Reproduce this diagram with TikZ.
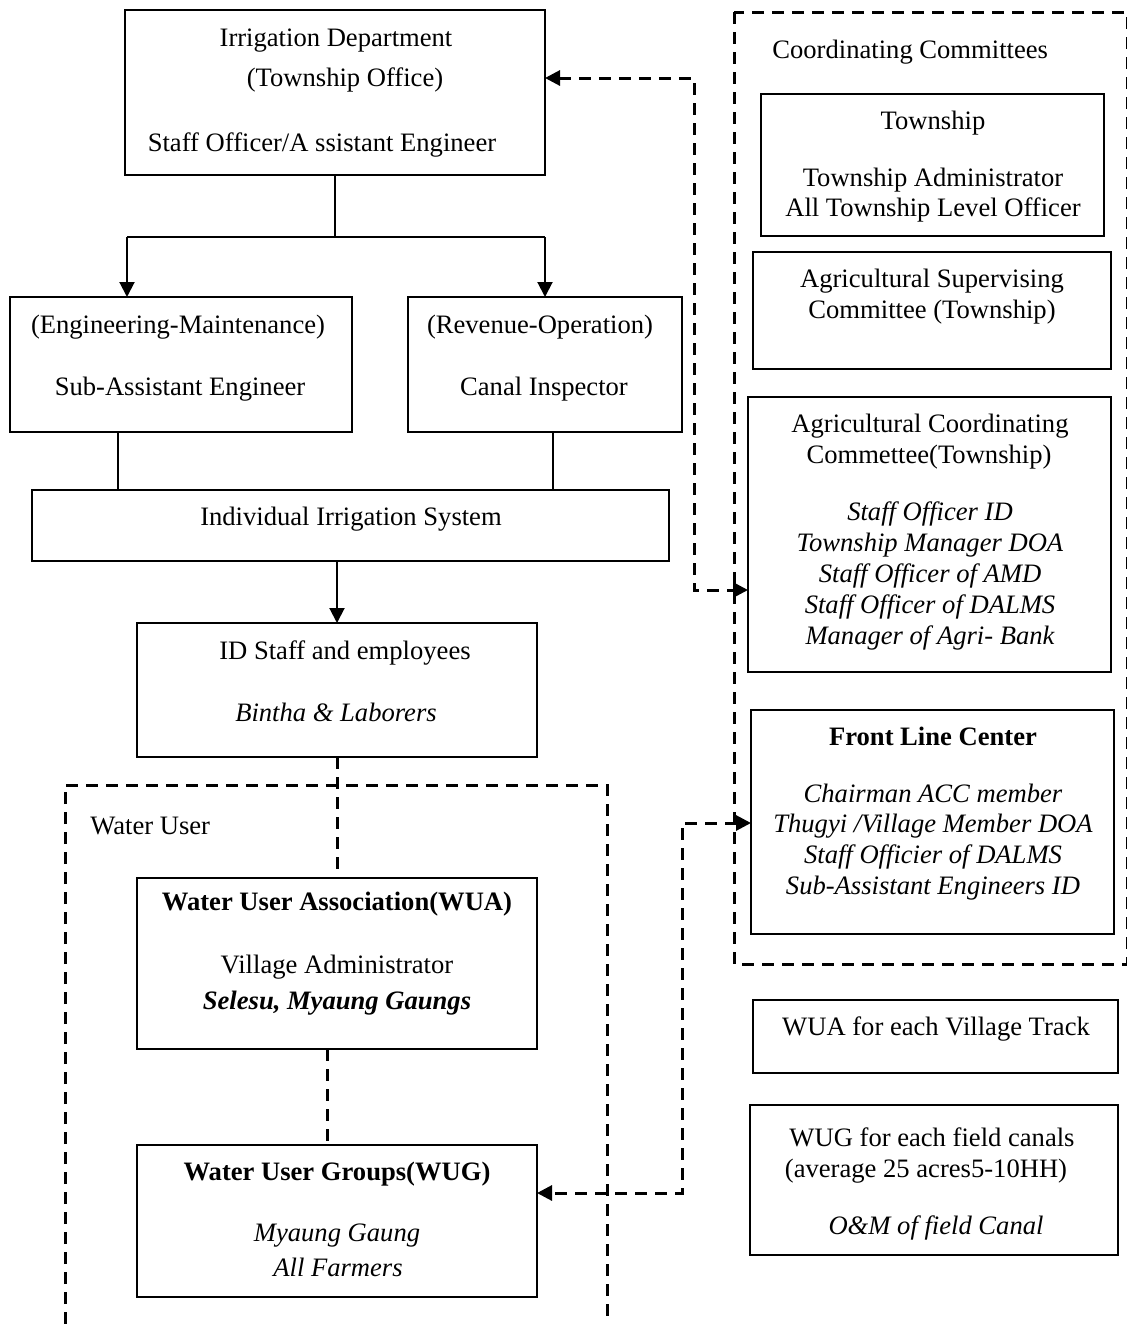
\documentclass[tikz,border=0pt]{standalone}
\usepackage{fontspec}
\setmainfont{Liberation Serif}
\usetikzlibrary{arrows.meta}

\begin{document}
\begin{tikzpicture}[x=0.5pt,y=-0.5pt,
    box/.style={draw,line width=1pt,inner sep=0pt,outer sep=0pt,anchor=north west},
    txt/.style={inner sep=0pt,anchor=mid,yshift=-2pt,font=\fontsize{13.3}{15}\selectfont},
    arr/.style={line width=1pt,-{Triangle[length=7.5pt,width=7.5pt]}},
    dash line/.style={line width=1.5pt,dash pattern=on 6pt off 4pt},
    darr/.style={dash line,{Triangle[length=7.5pt,width=7.5pt]}-{Triangle[length=7.5pt,width=7.5pt]}}]

\useasboundingbox (0,0) rectangle (1127,1324);

% left column
\node[box,minimum width=210pt,minimum height=82.5pt] (irr) at (125,10) {};
\node[txt] (irr-a) at (336,38)  {Irrigation Department};
\node[txt] (irr-b) at (345,78)  {(Township Office)};
\node[txt] (irr-c) at (322,143) {Staff Officer/A ssistant Engineer};

\node[box,minimum width=171pt,minimum height=67.5pt] (eng) at (10,297) {};
\node[txt] (eng-a) at (178,325) {(Engineering-Maintenance)};
\node[txt] (eng-b) at (180,387) {Sub-Assistant Engineer};

\node[box,minimum width=137pt,minimum height=67.5pt] (rev) at (408,297) {};
\node[txt] (rev-a) at (540,325) {(Revenue-Operation)};
\node[txt] (rev-b) at (544,387) {Canal Inspector};

\node[box,minimum width=318.5pt,minimum height=35.5pt] (iis) at (32,490) {};
\node[txt] (iis-a) at (351,517) {Individual Irrigation System};

\node[box,minimum width=200pt,minimum height=67pt] (ids) at (137,623) {};
\node[txt] (ids-a) at (345,651) {ID Staff and employees};
\node[txt] (ids-b) at (336,713) {\itshape Bintha \& Laborers};

% water user
\draw[dash line] (65,1324) |- (607,785) -- (607,1324);
\node[txt,anchor=west] (wu) at (90,822) {Water User};

\node[box,minimum width=200pt,minimum height=85.5pt] (wua) at (137,878) {};
\node[txt] (wua-a) at (337,902)  {\bfseries Water User Association(WUA)};
\node[txt] (wua-b) at (337,965)  {Village Administrator};
\node[txt] (wua-c) at (337,1001) {\bfseries\itshape Selesu, Myaung Gaungs};

\node[box,minimum width=200pt,minimum height=76pt] (wug) at (137,1145) {};
\node[txt] (wug-a) at (337,1172) {\bfseries Water User Groups(WUG)};
\node[txt] (wug-b) at (337,1233) {\itshape Myaung Gaung};
\node[txt] (wug-c) at (338,1268) {\itshape All Farmers};

% coordinating committees
\draw[dash line] (734,12) rectangle (1127,964);
\node[txt,anchor=west] (cc) at (772,48) {Coordinating Committees};

\node[box,minimum width=171.5pt,minimum height=71pt] (tsp) at (761,94) {};
\node[txt] (tsp-a) at (933,121) {Township};
\node[txt] (tsp-b) at (933,178) {Township Administrator};
\node[txt] (tsp-c) at (933,208) {All Township Level Officer};

\node[box,minimum width=179pt,minimum height=58.5pt] (asc) at (753,252) {};
\node[txt] (asc-a) at (932,279) {Agricultural Supervising};
\node[txt] (asc-b) at (932,310) {Committee (Township)};

\node[box,minimum width=181.5pt,minimum height=137.5pt] (acc) at (748,397) {};
\node[txt] (acc-a) at (930,424) {Agricultural Coordinating};
\node[txt] (acc-b) at (929,455) {Commettee(Township)};
\node[txt] (acc-c) at (930,512) {\itshape Staff Officer ID};
\node[txt] (acc-d) at (930,543) {\itshape Township Manager DOA};
\node[txt] (acc-e) at (930,574) {\itshape Staff Officer of AMD};
\node[txt] (acc-f) at (930,605) {\itshape Staff Officer of DALMS};
\node[txt] (acc-g) at (930,636) {\itshape Manager of Agri- Bank};

\node[box,minimum width=181.5pt,minimum height=112pt] (flc) at (751,710) {};
\node[txt] (flc-a) at (933,737) {\bfseries Front Line Center};
\node[txt] (flc-b) at (933,794) {\itshape Chairman ACC member};
\node[txt] (flc-c) at (933,824) {\itshape Thugyi /Village Member DOA};
\node[txt] (flc-d) at (933,855) {\itshape Staff Officier of DALMS};
\node[txt] (flc-e) at (933,886) {\itshape Sub-Assistant Engineers ID};

\node[box,minimum width=182.5pt,minimum height=36.5pt] (wuav) at (753,1000) {};
\node[txt] (wuav-a) at (936,1027) {WUA for each Village Track};

\node[box,minimum width=184pt,minimum height=75pt] (wugf) at (750,1105) {};
\node[txt] (wugf-a) at (932,1138) {WUG for each field canals};
\node[txt] (wugf-b) at (926,1169) {(average 25 acres5-10HH)};
\node[txt] (wugf-c) at (936,1226) {\itshape O\&M of field Canal};

% connectors
\coordinate (jl) at (127,237);
\coordinate (jr) at (545,237);
\draw[line width=1pt] (irr.south) -- (irr.south |- jl);
\draw[line width=1pt] (jl) -- (jr);
\draw[arr] (jl) -- (jl |- eng.north);
\draw[arr] (jr) -- (jr |- rev.north);

\coordinate (el) at (118,432);
\coordinate (er) at (553,432);
\draw[line width=1pt] (el) -- (el |- iis.north);
\draw[line width=1pt] (er) -- (er |- iis.north);

\draw[arr] (ids.north |- iis.south) -- (ids.north);
\draw[dash line] (ids.south) -- (wua.north);
\draw[dash line] ([xshift=-5pt]wua.south) -- ([xshift=-5pt]wug.north);

\coordinate (a1) at (694,78);
\coordinate (a2) at (694,590);
\draw[darr] (irr.east |- a1) -- (a1) -- (a2) -- (acc.west |- a2);

\coordinate (b1) at (682,823);
\coordinate (b2) at (682,1193);
\draw[darr] (flc.west |- b1) -- (b1) -- (b2) -- (wug.east |- b2);
\end{tikzpicture}
\end{document}
